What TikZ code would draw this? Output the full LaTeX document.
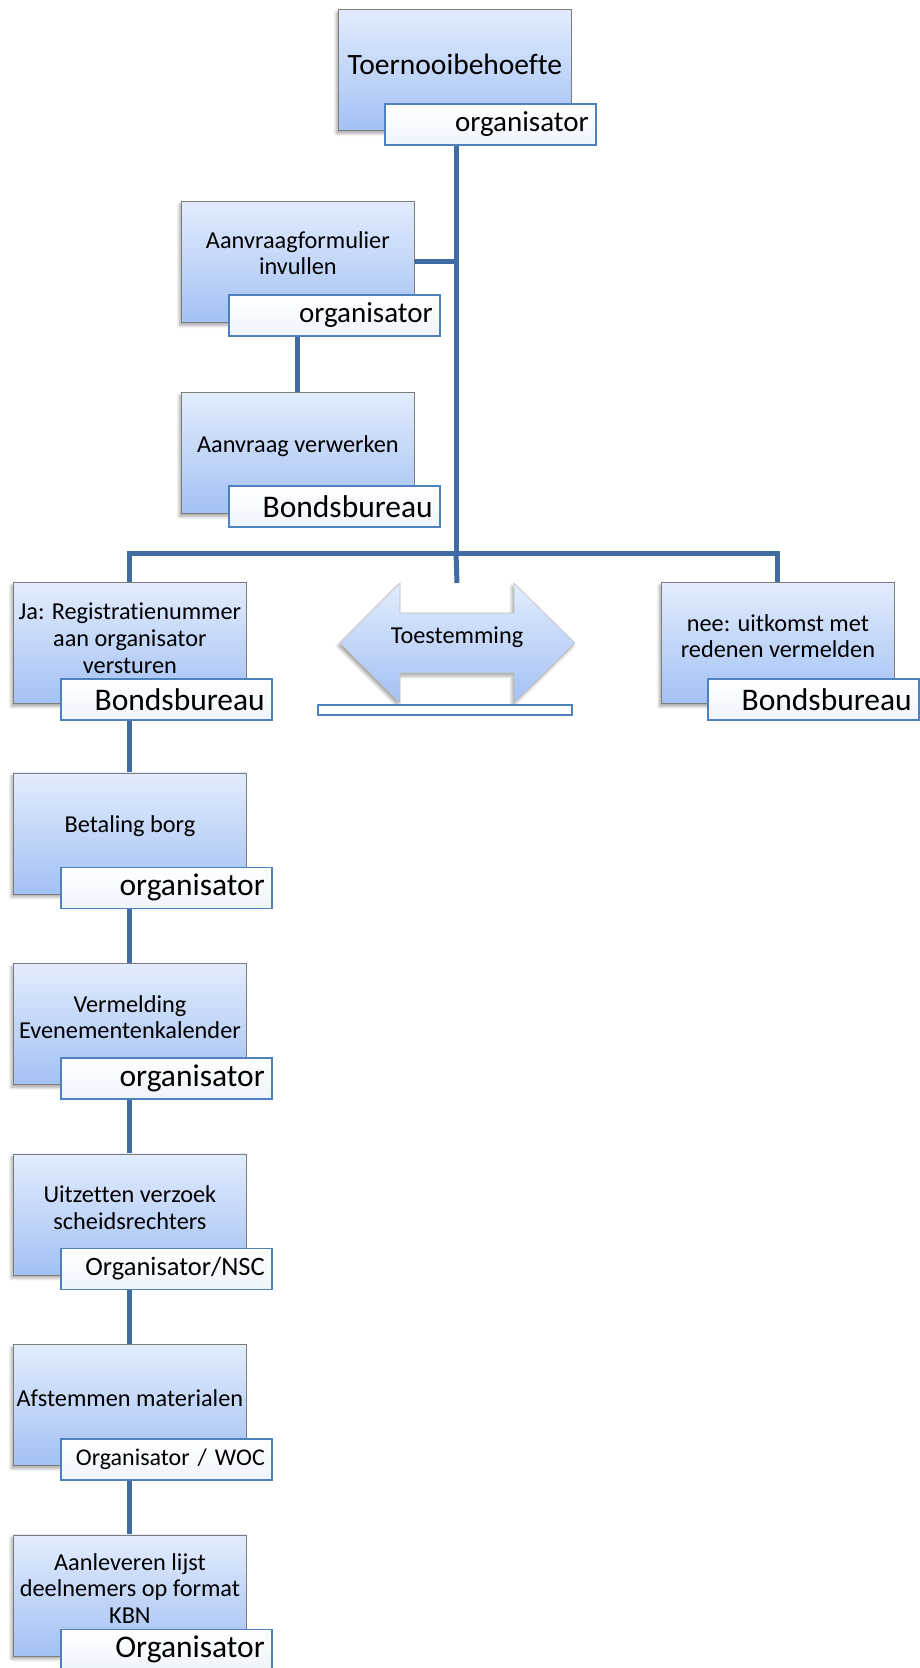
\documentclass[tikz,border=0pt]{standalone}
\usepackage{fontspec}
\setmainfont[Ligatures=NoCommon]{Carlito}
\usetikzlibrary{shadows.blur,calc}
\definecolor{boxtop}{RGB}{226,236,253}
\definecolor{boxbot}{RGB}{163,193,244}
\definecolor{edgeblue}{RGB}{79,129,189}
\definecolor{linkblue}{RGB}{65,107,163}
\definecolor{boxline}{RGB}{125,125,125}
\definecolor{rolebot}{RGB}{238,244,253}
\pgfdeclarelayer{bg}
\pgfsetlayers{bg,main}
\tikzset{
  myshadow/.style={blur shadow={shadow xshift=-2pt, shadow yshift=-3pt, shadow opacity=35, shadow blur steps=6, shadow blur radius=3pt}},
  stepbox/.style={draw=boxline, line width=0.8pt, top color=boxtop, bottom color=boxbot,
    minimum width=233pt, minimum height=121pt, anchor=north west, inner sep=0pt, myshadow},
  steptext/.style={font=\fontsize{24.3}{26.5}\selectfont, align=center, inner sep=0pt, yshift=7pt},
  rolebox/.style={draw=edgeblue, line width=1.6pt, top color=white, bottom color=rolebot,
    text width=197pt, align=right, inner xsep=7pt, inner ysep=0pt,
    minimum height=41pt, anchor=north west, font=\fontsize{31.5}{34}\selectfont},
  link/.style={draw=linkblue, line width=5pt}
}
\begin{document}
\begin{tikzpicture}[x=1pt, y=-1pt]
\useasboundingbox (0,0) rectangle (919,1668);

% top
\node[stepbox, label={[steptext, yshift=-1pt, font=\fontsize{29.5}{32}\selectfont]center:Toernooibehoefte}] (t0) at (338,9) {};
\node[rolebox, font=\fontsize{29}{32}\selectfont] (r0) at (384,103) {organisator};

\node[stepbox, label={[steptext, yshift=2pt]center:Aanvraagformulier\\invullen}] (t1) at (181,201) {};
\node[rolebox, font=\fontsize{29}{32}\selectfont] (r1) at (228,294) {organisator};

\node[stepbox, label={[steptext]center:Aanvraag verwerken}] (t2) at (181,392) {};
\node[rolebox] (r2) at (228,485) {Bondsbureau};

% branches
\node[stepbox, label={[steptext, yshift=-2pt, font=\fontsize{24.3}{27}\selectfont]center:Ja: Registratienummer\\aan organisator\\versturen}] (ja) at (13,582) {};
\node[rolebox] (rja) at (60,678) {Bondsbureau};

\node[stepbox, label={[steptext]center:nee: uitkomst met\\redenen vermelden}] (nee) at (661,582) {};
\node[rolebox] (rnee) at (707,678) {Bondsbureau};

% double arrow
\path[draw=boxline!50, line width=0.6pt, top color=boxtop, bottom color=boxbot, myshadow]
  (340,643) -- (400,583) -- (400,613) -- (514,613) -- (514,583) -- (575,643)
  -- (514,703) -- (514,673) -- (400,673) -- (400,703) -- cycle;
\coordinate (atop) at (457,583);
\node[font=\fontsize{24.3}{26.5}\selectfont, inner sep=0pt] (tst) at (457,637) {Toestemming};
\node[draw=edgeblue, line width=1.6pt, fill=white, minimum width=254pt, minimum height=10pt,
  anchor=north west, inner sep=0pt] (rt) at (317,704) {};

% chain
\node[stepbox, label={[steptext]center:Betaling borg}] (b1) at (13,772.5) {};
\node[rolebox] (rb1) at (60,866.5) {organisator};

\node[stepbox, label={[steptext]center:Vermelding\\Evenementenkalender}] (b2) at (13,963) {};
\node[rolebox] (rb2) at (60,1057) {organisator};

\node[stepbox, label={[steptext]center:Uitzetten verzoek\\scheidsrechters}] (b3) at (13,1153.5) {};
\node[rolebox, font=\fontsize{26.5}{30}\selectfont] (rb3) at (60,1247.5) {Organisator/NSC};

\node[stepbox, label={[steptext]center:Afstemmen materialen}] (b4) at (13,1344) {};
\node[rolebox, font=\fontsize{24}{28}\selectfont] (rb4) at (60,1438) {Organisator / WOC};

\node[stepbox, label={[steptext]center:Aanleveren lijst\\deelnemers op format\\KBN}] (b5) at (13,1534.5) {};
\node[rolebox] (rb5) at (60,1628.5) {Organisator};

% connectors
\coordinate (hub) at (456,553);
\begin{pgfonlayer}{bg}
  \draw[link] (t0.south -| hub) -- (hub);
  \draw[link] (t1.east) -- (t1.east -| hub);
  \draw[link] (t1.south) -- (t2.north);
  \draw[link] (ja.north) -- (ja.north |- hub) -- (nee.north |- hub) -- (nee.north);
  \draw[link] (hub) -- (atop);
  \draw[link] (ja.south) -- (b1.north);
  \draw[link] (b1.south) -- (b2.north);
  \draw[link] (b2.south) -- (b3.north);
  \draw[link] (b3.south) -- (b4.north);
  \draw[link] (b4.south) -- (b5.north);
\end{pgfonlayer}
\end{tikzpicture}
\end{document}
